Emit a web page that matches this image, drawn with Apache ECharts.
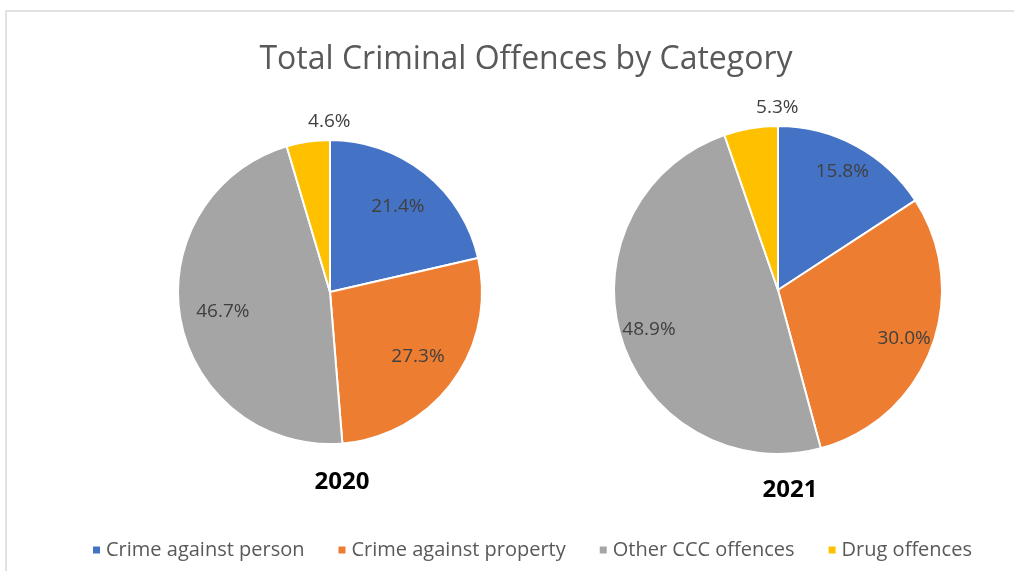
<!DOCTYPE html>
<html><head><meta charset="utf-8">
<script src="https://cdn.jsdelivr.net/npm/echarts@6/dist/echarts.min.js"></script>
<style>html,body{margin:0;padding:0;background:#fff}#c{width:1014px;height:571px}</style>
</head><body><div id="c"></div>
<script>
const categories = ['Crime against person', 'Crime against property', 'Other CCC offences', 'Drug offences'];
const values2020 = [21.4, 27.3, 46.7, 4.6];
const values2021 = [15.8, 30.0, 48.9, 5.3];
const years = ['2020', '2021'];
const colors = ['#4472C4', '#ED7D31', '#A5A5A5', '#FFC000'];

const FONT = 'Open Sans';
function mk(vals) { return categories.map((n, i) => ({ name: n, value: vals[i] })); }
function fmt(p) { return p.value.toFixed(1) + '%'; }

function pieSet(vals, center, r, innerLabelR, outerPad) {
  const data = mk(vals);
  const small = v => v < 10;
  const lbl = { show: true, position: 'inside', formatter: fmt, color: '#404040', fontSize: 19, fontFamily: FONT };
  return [
    { type: 'pie', center, radius: [0, r], startAngle: 90, clockwise: true,
      data, label: { show: false }, labelLine: { show: false },
      itemStyle: { borderColor: '#fff', borderWidth: 2 }, silent: true },
    { type: 'pie', center, radius: [0, innerLabelR * 2], startAngle: 90, clockwise: true,
      data: data.map(d => ({ ...d, label: { show: !small(d.value) } })),
      itemStyle: { color: 'rgba(0,0,0,0)', borderWidth: 0 }, silent: true,
      label: lbl, labelLine: { show: false }, emphasis: { disabled: true } },
    { type: 'pie', center, radius: [r, r * 1.22], startAngle: 90, clockwise: true,
      data: data.map(d => ({ ...d, label: { show: small(d.value) } })),
      itemStyle: { color: 'rgba(0,0,0,0)', borderWidth: 0 }, silent: true,
      label: { ...lbl, padding: [0, 0, 0, outerPad] }, labelLine: { show: false }, emphasis: { disabled: true } }
  ];
}

const chart = echarts.init(document.getElementById('c'));
chart.setOption({
  animation: false,
  color: colors,
  graphic: [{ type: 'rect', shape: { x: 6, y: 11, width: 1100, height: 700 },
    style: { fill: 'none', stroke: '#d9d9d9', lineWidth: 1.5 }, silent: true }],
  title: [
    { text: 'Total Criminal Offences by Category', left: 521, top: 39, textAlign: 'center',
      textStyle: { fontFamily: FONT, fontSize: 32, fontWeight: 'normal', color: '#595959' } },
    { text: years[0], left: 337, top: 465, textAlign: 'center',
      textStyle: { fontFamily: FONT, fontSize: 24, fontWeight: 'bold', color: '#000' } },
    { text: years[1], left: 785, top: 473, textAlign: 'center',
      textStyle: { fontFamily: FONT, fontSize: 24, fontWeight: 'bold', color: '#000' } }
  ],
  legend: {
    data: categories, bottom: 6, left: 86, icon: 'rect', itemWidth: 9, itemHeight: 9, itemGap: 32,
    textStyle: { fontFamily: FONT, fontSize: 20, color: '#595959' }, selectedMode: false
  },
  series: [
    ...pieSet(values2020, [330, 292], 152, 106, 48),
    ...pieSet(values2021, [778, 290], 164, 132, 60)
  ]
});
</script></body></html>
